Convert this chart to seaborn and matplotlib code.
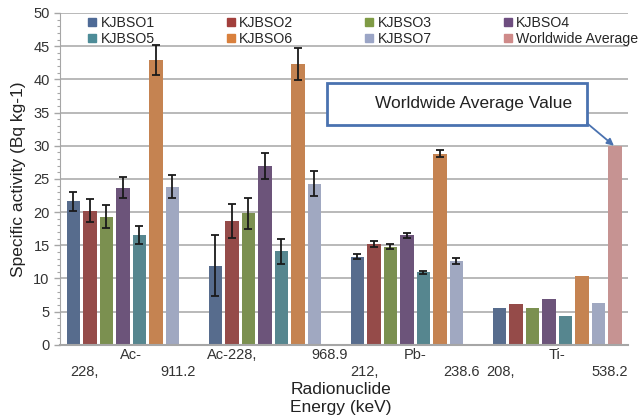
import numpy as np
import pandas as pd
import matplotlib
matplotlib.use("Agg")
import matplotlib.pyplot as plt
import seaborn as sns
from matplotlib.patches import Rectangle
from matplotlib.ticker import MultipleLocator

# -------------------------------
# ДАНІ
# -------------------------------
nuclides = ["Ac-228, 911.2", "Ac-228, 968.9", "Pb-212, 238.6", "Ti-208, 538.2"]
series = ["KJBSO1", "KJBSO2", "KJBSO3", "KJBSO4", "KJBSO5", "KJBSO6", "KJBSO7",
          "Worldwide Average"]

values = {
    "KJBSO1": [21.6, 11.9, 13.3, 5.6],
    "KJBSO2": [20.2, 18.6, 15.2, 6.1],
    "KJBSO3": [19.3, 19.8, 14.8, 5.5],
    "KJBSO4": [23.7, 26.9, 16.5, 6.9],
    "KJBSO5": [16.6, 14.1, 10.9, 4.3],
    "KJBSO6": [42.9, 42.3, 28.8, 10.4],
    "KJBSO7": [23.8, 24.3, 12.65, 6.3],
}
errors = {
    "KJBSO1": [1.5, 4.6, 0.4, np.nan],
    "KJBSO2": [1.7, 2.55, 0.4, np.nan],
    "KJBSO3": [1.7, 2.35, 0.35, np.nan],
    "KJBSO4": [1.6, 1.95, 0.4, np.nan],
    "KJBSO5": [1.35, 1.85, 0.3, np.nan],
    "KJBSO6": [2.2, 2.4, 0.5, np.nan],
    "KJBSO7": [1.75, 1.85, 0.4, np.nan],
}
worldwide_nuclide = "Ti-208, 538.2"
worldwide_value = 30.0

# розбиті підписи категорій (як в Excel): (текст, зсув по x, рядок)
tick_pieces = [
    [("Ac-", 0.0, 0), ("228,", -0.33, 1), ("911.2", 0.33, 1)],
    [("Ac-228,", -0.29, 0), ("968.9", 0.40, 0)],
    [("Pb-", 0.0, 0), ("212,", -0.36, 1), ("238.6", 0.33, 1)],
    [("Ti-", 0.0, 0), ("208,", -0.40, 1), ("538.2", 0.37, 1)],
]

colors = ["#4E6A96", "#A23F3C", "#7F9B45", "#6E4E80", "#4D8C98", "#D9803D",
          "#9BA5C6", "#CF8A89"]

rows = []
for s in series[:-1]:
    for n, v, e in zip(nuclides, values[s], errors[s]):
        rows.append({"nuclide": n, "series": s, "value": v, "err": e})
rows.append({"nuclide": worldwide_nuclide, "series": "Worldwide Average",
             "value": worldwide_value, "err": np.nan})
df = pd.DataFrame(rows)

# -------------------------------
# ГРАФІК
# -------------------------------
sns.set_style("white")
plt.rcParams["font.family"] = ["Liberation Sans", "DejaVu Sans"]

fig = plt.figure(figsize=(6.39, 4.18), dpi=100)
ax = fig.add_axes([0.094, 0.175, 0.889, 0.794])

sns.barplot(data=df, x="nuclide", y="value", hue="series", order=nuclides,
            hue_order=series, palette=colors, width=0.93, gap=0.18,
            errorbar=None, dodge=True, ax=ax, legend=False, linewidth=0)

# планки похибок
for s, cont in zip(series, ax.containers):
    sub = df[df["series"] == s].set_index("nuclide").reindex(
        [n for n in nuclides if n in set(df[df["series"] == s]["nuclide"])])
    xs = [p.get_x() + p.get_width() / 2 for p in cont.patches]
    ax.errorbar(xs, sub["value"].values, yerr=sub["err"].values, fmt="none",
                ecolor="#1a1a1a", elinewidth=1.3, capsize=3.2, capthick=1.3,
                zorder=5)

ax.set_xlim(-0.5, 3.5)
ax.set_ylim(0, 50)
ax.yaxis.set_major_locator(MultipleLocator(5))
ax.yaxis.set_minor_locator(MultipleLocator(1))
ax.grid(axis="y", which="major", color="#A6A6A6", lw=1.1)
ax.set_axisbelow(True)
ax.tick_params(axis="y", which="major", length=4, width=1, color="#A6A6A6",
               labelsize=10.5, labelcolor="#333333", left=True)
ax.tick_params(axis="y", which="minor", length=2.5, width=0.8,
               color="#A6A6A6", left=True)
ax.tick_params(axis="x", length=0)
ax.set_xticklabels([])
for sp in ["top", "right"]:
    ax.spines[sp].set_visible(False)
ax.spines["left"].set_color("#A6A6A6")
ax.spines["bottom"].set_color("#A6A6A6")
ax.spines["bottom"].set_linewidth(1.5)

# підписи категорій
for i, pieces in enumerate(tick_pieces):
    for txt, dx, line in pieces:
        ax.text(i + dx, -1.5 - line * 2.55, txt, ha="center", va="center",
                fontsize=10.5, color="#333333")

ax.set_ylabel("Specific activity (Bq kg-1)", fontsize=12.5, color="#222222",
              labelpad=5)
ax.set_xlabel("")
fig.text(0.534, 0.008, "Radionuclide\nEnergy (keV)", ha="center", va="bottom",
         fontsize=12.5, color="#222222", linespacing=1.2)

# легенда
handles = [Rectangle((0, 0), 1, 1, color=c) for c in colors]
order = [0, 4, 1, 5, 2, 6, 3, 7]
ax.legend([handles[i] for i in order], [series[i] for i in order], ncol=4,
          loc="upper left", bbox_to_anchor=(0.04, 1.008), frameon=False,
          fontsize=10.2, handlelength=0.55, handleheight=0.55,
          handletextpad=0.3, columnspacing=5.1, labelspacing=0.15,
          borderaxespad=0)

# виноска
ax.add_patch(Rectangle((1.38, 33.1), 1.83, 6.4, facecolor="white",
                       edgecolor="#4A72B0", lw=2, zorder=6))
ax.text(2.415, 36.3, "Worldwide Average Value", ha="center", va="center",
        fontsize=12.5, color="#222222", zorder=7)
ax.annotate("", xy=(3.40, worldwide_value), xytext=(3.21, 33.4),
            arrowprops=dict(arrowstyle="-|>", color="#4A72B0", lw=1.3,
                            mutation_scale=10, shrinkA=0, shrinkB=0),
            zorder=7)

fig.savefig("out.png", dpi=100, facecolor="white")
